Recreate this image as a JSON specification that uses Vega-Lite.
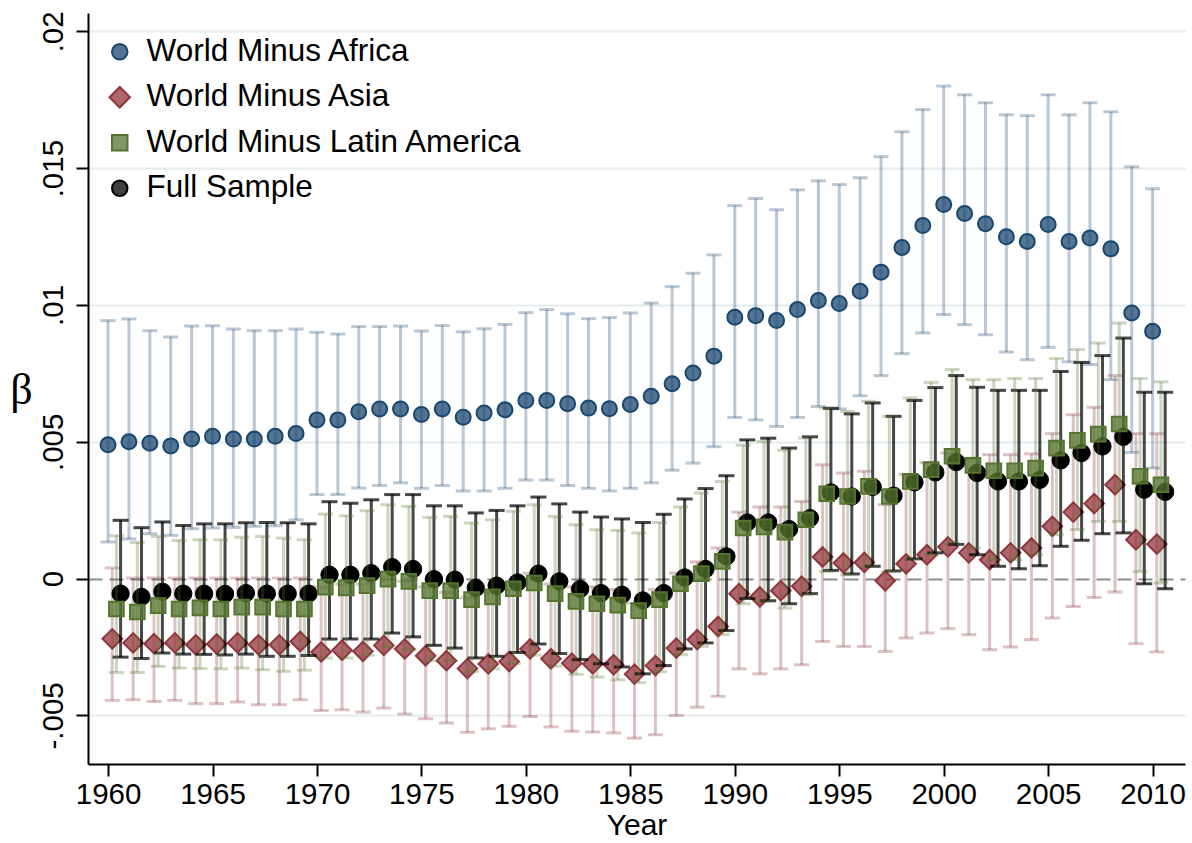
{
"$schema":"https://vega.github.io/schema/vega-lite/v6.json",
"width":1097,"height":751,
"autosize":{"type":"none"},
"padding":{"left":88,"top":13,"right":7,"bottom":79},
"background":"white",
"config":{"view":{"stroke":null},"font":"Liberation Sans",
 "legend":{"orient":"none","legendX":16,"legendY":23,"title":null,"labelFontSize":31.5,"labelFont":"Liberation Sans","labelColor":"black","labelLimit":600,"symbolSize":240,"rowPadding":12.5,"labelOffset":11,"symbolStrokeWidth":2}},
"data":{"values":[
{"s":"AF","yr":1960,"b":0.00489,"lo":0.00134,"hi":0.00943},
{"s":"AF","yr":1961,"b":0.0050,"lo":0.00145,"hi":0.00949},
{"s":"AF","yr":1962,"b":0.00495,"lo":0.00164,"hi":0.00906},
{"s":"AF","yr":1963,"b":0.00485,"lo":0.00158,"hi":0.00883},
{"s":"AF","yr":1964,"b":0.0051,"lo":0.00182,"hi":0.00923},
{"s":"AF","yr":1965,"b":0.0052,"lo":0.00185,"hi":0.00924},
{"s":"AF","yr":1966,"b":0.0051,"lo":0.00187,"hi":0.00912},
{"s":"AF","yr":1967,"b":0.0051,"lo":0.00191,"hi":0.00906},
{"s":"AF","yr":1968,"b":0.0052,"lo":0.00193,"hi":0.00906},
{"s":"AF","yr":1969,"b":0.0053,"lo":0.00215,"hi":0.00912},
{"s":"AF","yr":1970,"b":0.0058,"lo":0.00307,"hi":0.0090},
{"s":"AF","yr":1971,"b":0.0058,"lo":0.00307,"hi":0.00894},
{"s":"AF","yr":1972,"b":0.0061,"lo":0.00331,"hi":0.00921},
{"s":"AF","yr":1973,"b":0.0062,"lo":0.0034,"hi":0.00921},
{"s":"AF","yr":1974,"b":0.0062,"lo":0.0035,"hi":0.00923},
{"s":"AF","yr":1975,"b":0.0060,"lo":0.0033,"hi":0.00905},
{"s":"AF","yr":1976,"b":0.0062,"lo":0.0034,"hi":0.00925},
{"s":"AF","yr":1977,"b":0.0059,"lo":0.0032,"hi":0.00902},
{"s":"AF","yr":1978,"b":0.00605,"lo":0.0032,"hi":0.00913},
{"s":"AF","yr":1979,"b":0.00617,"lo":0.0033,"hi":0.00929},
{"s":"AF","yr":1980,"b":0.00651,"lo":0.0036,"hi":0.00972},
{"s":"AF","yr":1981,"b":0.00651,"lo":0.0036,"hi":0.00983},
{"s":"AF","yr":1982,"b":0.00639,"lo":0.0034,"hi":0.00968},
{"s":"AF","yr":1983,"b":0.00623,"lo":0.0033,"hi":0.0095},
{"s":"AF","yr":1984,"b":0.00621,"lo":0.0032,"hi":0.00954},
{"s":"AF","yr":1985,"b":0.00636,"lo":0.0033,"hi":0.00971},
{"s":"AF","yr":1986,"b":0.00666,"lo":0.0035,"hi":0.01007},
{"s":"AF","yr":1987,"b":0.00712,"lo":0.00396,"hi":0.01067},
{"s":"AF","yr":1988,"b":0.00751,"lo":0.00422,"hi":0.01116},
{"s":"AF","yr":1989,"b":0.00813,"lo":0.00482,"hi":0.01183},
{"s":"AF","yr":1990,"b":0.00955,"lo":0.00589,"hi":0.01363},
{"s":"AF","yr":1991,"b":0.00961,"lo":0.0058,"hi":0.01389},
{"s":"AF","yr":1992,"b":0.00943,"lo":0.00556,"hi":0.01348},
{"s":"AF","yr":1993,"b":0.00983,"lo":0.00589,"hi":0.01421},
{"s":"AF","yr":1994,"b":0.01016,"lo":0.00629,"hi":0.01454},
{"s":"AF","yr":1995,"b":0.01005,"lo":0.0062,"hi":0.0144},
{"s":"AF","yr":1996,"b":0.0105,"lo":0.00668,"hi":0.01465},
{"s":"AF","yr":1997,"b":0.0112,"lo":0.00742,"hi":0.01542},
{"s":"AF","yr":1998,"b":0.0121,"lo":0.00822,"hi":0.01633},
{"s":"AF","yr":1999,"b":0.0129,"lo":0.00898,"hi":0.01714},
{"s":"AF","yr":2000,"b":0.01367,"lo":0.00965,"hi":0.0180},
{"s":"AF","yr":2001,"b":0.01334,"lo":0.00928,"hi":0.01768},
{"s":"AF","yr":2002,"b":0.01297,"lo":0.00891,"hi":0.01739},
{"s":"AF","yr":2003,"b":0.01249,"lo":0.00828,"hi":0.01695},
{"s":"AF","yr":2004,"b":0.01232,"lo":0.0080,"hi":0.01692},
{"s":"AF","yr":2005,"b":0.01294,"lo":0.00845,"hi":0.01768},
{"s":"AF","yr":2006,"b":0.01232,"lo":0.00792,"hi":0.01695},
{"s":"AF","yr":2007,"b":0.01245,"lo":0.00782,"hi":0.01739},
{"s":"AF","yr":2008,"b":0.01205,"lo":0.00727,"hi":0.01706},
{"s":"AF","yr":2009,"b":0.00971,"lo":0.00461,"hi":0.01505},
{"s":"AF","yr":2010,"b":0.00904,"lo":0.00404,"hi":0.01425},
{"s":"AS","yr":1960,"b":-0.0022,"lo":-0.00445,"hi":0.00039},
{"s":"AS","yr":1961,"b":-0.00235,"lo":-0.00443,"hi":0.00002},
{"s":"AS","yr":1962,"b":-0.00238,"lo":-0.00449,"hi":0.00002},
{"s":"AS","yr":1963,"b":-0.00235,"lo":-0.00445,"hi":0.00002},
{"s":"AS","yr":1964,"b":-0.00242,"lo":-0.00457,"hi":0.00002},
{"s":"AS","yr":1965,"b":-0.00239,"lo":-0.00457,"hi":0.00002},
{"s":"AS","yr":1966,"b":-0.00235,"lo":-0.00451,"hi":0.00002},
{"s":"AS","yr":1967,"b":-0.00242,"lo":-0.00461,"hi":0.00002},
{"s":"AS","yr":1968,"b":-0.00242,"lo":-0.00461,"hi":0.00002},
{"s":"AS","yr":1969,"b":-0.0023,"lo":-0.00443,"hi":0.00002},
{"s":"AS","yr":1970,"b":-0.00268,"lo":-0.00482,"hi":-0.0003},
{"s":"AS","yr":1971,"b":-0.00262,"lo":-0.00479,"hi":-0.0002},
{"s":"AS","yr":1972,"b":-0.00266,"lo":-0.00488,"hi":-0.0002},
{"s":"AS","yr":1973,"b":-0.00244,"lo":-0.00473,"hi":0.0001},
{"s":"AS","yr":1974,"b":-0.00257,"lo":-0.00495,"hi":-0.0001},
{"s":"AS","yr":1975,"b":-0.00282,"lo":-0.00512,"hi":-0.0003},
{"s":"AS","yr":1976,"b":-0.0030,"lo":-0.00528,"hi":-0.0005},
{"s":"AS","yr":1977,"b":-0.00329,"lo":-0.00562,"hi":-0.0007},
{"s":"AS","yr":1978,"b":-0.00312,"lo":-0.00549,"hi":-0.0005},
{"s":"AS","yr":1979,"b":-0.00303,"lo":-0.0054,"hi":-0.0004},
{"s":"AS","yr":1980,"b":-0.00257,"lo":-0.00504,"hi":0.0002},
{"s":"AS","yr":1981,"b":-0.00293,"lo":-0.00542,"hi":-0.0002},
{"s":"AS","yr":1982,"b":-0.00309,"lo":-0.00558,"hi":-0.0003},
{"s":"AS","yr":1983,"b":-0.00312,"lo":-0.00561,"hi":-0.0003},
{"s":"AS","yr":1984,"b":-0.00315,"lo":-0.00564,"hi":-0.0004},
{"s":"AS","yr":1985,"b":-0.00349,"lo":-0.00583,"hi":-0.0009},
{"s":"AS","yr":1986,"b":-0.00318,"lo":-0.00571,"hi":-0.0004},
{"s":"AS","yr":1987,"b":-0.00254,"lo":-0.0050,"hi":0.0002},
{"s":"AS","yr":1988,"b":-0.00223,"lo":-0.0047,"hi":0.00061},
{"s":"AS","yr":1989,"b":-0.00175,"lo":-0.0043,"hi":0.00112},
{"s":"AS","yr":1990,"b":-0.00055,"lo":-0.0033,"hi":0.00243},
{"s":"AS","yr":1991,"b":-0.00067,"lo":-0.00348,"hi":0.00262},
{"s":"AS","yr":1992,"b":-0.00044,"lo":-0.0033,"hi":0.00262},
{"s":"AS","yr":1993,"b":-0.00028,"lo":-0.00315,"hi":0.00282},
{"s":"AS","yr":1994,"b":0.00079,"lo":-0.0023,"hi":0.00416},
{"s":"AS","yr":1995,"b":0.00057,"lo":-0.00248,"hi":0.00386},
{"s":"AS","yr":1996,"b":0.00059,"lo":-0.00248,"hi":0.00392},
{"s":"AS","yr":1997,"b":-0.00008,"lo":-0.00266,"hi":0.0027},
{"s":"AS","yr":1998,"b":0.00054,"lo":-0.00217,"hi":0.0038},
{"s":"AS","yr":1999,"b":0.00087,"lo":-0.00199,"hi":0.00423},
{"s":"AS","yr":2000,"b":0.00116,"lo":-0.00183,"hi":0.00459},
{"s":"AS","yr":2001,"b":0.00094,"lo":-0.00205,"hi":0.0044},
{"s":"AS","yr":2002,"b":0.00069,"lo":-0.0026,"hi":0.00453},
{"s":"AS","yr":2003,"b":0.00094,"lo":-0.0025,"hi":0.00453},
{"s":"AS","yr":2004,"b":0.00112,"lo":-0.00223,"hi":0.00456},
{"s":"AS","yr":2005,"b":0.00191,"lo":-0.00144,"hi":0.0053},
{"s":"AS","yr":2006,"b":0.00243,"lo":-0.00102,"hi":0.00599},
{"s":"AS","yr":2007,"b":0.00274,"lo":-0.00069,"hi":0.00626},
{"s":"AS","yr":2008,"b":0.00343,"lo":-0.00049,"hi":0.00742},
{"s":"AS","yr":2009,"b":0.00142,"lo":-0.00238,"hi":0.0053},
{"s":"AS","yr":2010,"b":0.00126,"lo":-0.00268,"hi":0.0053},
{"s":"LA","yr":1960,"b":-0.00111,"lo":-0.00343,"hi":0.00157},
{"s":"LA","yr":1961,"b":-0.00122,"lo":-0.00343,"hi":0.00132},
{"s":"LA","yr":1962,"b":-0.00099,"lo":-0.00321,"hi":0.00154},
{"s":"LA","yr":1963,"b":-0.00111,"lo":-0.00327,"hi":0.00139},
{"s":"LA","yr":1964,"b":-0.00107,"lo":-0.00329,"hi":0.00142},
{"s":"LA","yr":1965,"b":-0.00111,"lo":-0.0033,"hi":0.00142},
{"s":"LA","yr":1966,"b":-0.00104,"lo":-0.00327,"hi":0.00151},
{"s":"LA","yr":1967,"b":-0.00104,"lo":-0.00333,"hi":0.00154},
{"s":"LA","yr":1968,"b":-0.00111,"lo":-0.00339,"hi":0.00148},
{"s":"LA","yr":1969,"b":-0.00111,"lo":-0.00335,"hi":0.00142},
{"s":"LA","yr":1970,"b":-0.00031,"lo":-0.0029,"hi":0.00236},
{"s":"LA","yr":1971,"b":-0.00034,"lo":-0.0029,"hi":0.0023},
{"s":"LA","yr":1972,"b":-0.00026,"lo":-0.0028,"hi":0.00248},
{"s":"LA","yr":1973,"b":-0.00002,"lo":-0.0025,"hi":0.0027},
{"s":"LA","yr":1974,"b":-0.0001,"lo":-0.0026,"hi":0.00264},
{"s":"LA","yr":1975,"b":-0.00044,"lo":-0.003,"hi":0.00224},
{"s":"LA","yr":1976,"b":-0.00044,"lo":-0.003,"hi":0.00227},
{"s":"LA","yr":1977,"b":-0.00077,"lo":-0.0034,"hi":0.00203},
{"s":"LA","yr":1978,"b":-0.00067,"lo":-0.0033,"hi":0.00215},
{"s":"LA","yr":1979,"b":-0.00037,"lo":-0.0031,"hi":0.00246},
{"s":"LA","yr":1980,"b":-0.00016,"lo":-0.0028,"hi":0.0027},
{"s":"LA","yr":1981,"b":-0.00055,"lo":-0.0032,"hi":0.00227},
{"s":"LA","yr":1982,"b":-0.00083,"lo":-0.0035,"hi":0.00197},
{"s":"LA","yr":1983,"b":-0.00092,"lo":-0.0036,"hi":0.00179},
{"s":"LA","yr":1984,"b":-0.00097,"lo":-0.0037,"hi":0.00176},
{"s":"LA","yr":1985,"b":-0.00117,"lo":-0.0038,"hi":0.00167},
{"s":"LA","yr":1986,"b":-0.00077,"lo":-0.0034,"hi":0.00205},
{"s":"LA","yr":1987,"b":-0.00019,"lo":-0.00278,"hi":0.00262},
{"s":"LA","yr":1988,"b":0.00018,"lo":-0.00248,"hi":0.00313},
{"s":"LA","yr":1989,"b":0.00063,"lo":-0.00205,"hi":0.00355},
{"s":"LA","yr":1990,"b":0.00185,"lo":-0.00092,"hi":0.00487},
{"s":"LA","yr":1991,"b":0.00189,"lo":-0.00083,"hi":0.00501},
{"s":"LA","yr":1992,"b":0.0017,"lo":-0.00108,"hi":0.00469},
{"s":"LA","yr":1993,"b":0.00215,"lo":-0.00059,"hi":0.00514},
{"s":"LA","yr":1994,"b":0.0031,"lo":0.00026,"hi":0.00624},
{"s":"LA","yr":1995,"b":0.0030,"lo":0.00014,"hi":0.00611},
{"s":"LA","yr":1996,"b":0.00337,"lo":0.00045,"hi":0.00648},
{"s":"LA","yr":1997,"b":0.0030,"lo":0.00026,"hi":0.00593},
{"s":"LA","yr":1998,"b":0.00355,"lo":0.00072,"hi":0.0066},
{"s":"LA","yr":1999,"b":0.00398,"lo":0.00087,"hi":0.00717},
{"s":"LA","yr":2000,"b":0.00447,"lo":0.0013,"hi":0.00764},
{"s":"LA","yr":2001,"b":0.00414,"lo":0.00112,"hi":0.00727},
{"s":"LA","yr":2002,"b":0.00394,"lo":0.00069,"hi":0.00727},
{"s":"LA","yr":2003,"b":0.00394,"lo":0.00069,"hi":0.00731},
{"s":"LA","yr":2004,"b":0.00404,"lo":0.00087,"hi":0.00731},
{"s":"LA","yr":2005,"b":0.00477,"lo":0.0016,"hi":0.00804},
{"s":"LA","yr":2006,"b":0.00505,"lo":0.00179,"hi":0.00837},
{"s":"LA","yr":2007,"b":0.00528,"lo":0.00209,"hi":0.00861},
{"s":"LA","yr":2008,"b":0.00565,"lo":0.00209,"hi":0.00934},
{"s":"LA","yr":2009,"b":0.00374,"lo":0.00026,"hi":0.00731},
{"s":"LA","yr":2010,"b":0.00343,"lo":-0.00016,"hi":0.00719},
{"s":"FS","yr":1960,"b":-0.00055,"lo":-0.00287,"hi":0.00213},
{"s":"FS","yr":1961,"b":-0.00067,"lo":-0.00292,"hi":0.00186},
{"s":"FS","yr":1962,"b":-0.00048,"lo":-0.00272,"hi":0.00207},
{"s":"FS","yr":1963,"b":-0.00055,"lo":-0.00276,"hi":0.00194},
{"s":"FS","yr":1964,"b":-0.00055,"lo":-0.00277,"hi":0.0020},
{"s":"FS","yr":1965,"b":-0.00056,"lo":-0.00279,"hi":0.0020},
{"s":"FS","yr":1966,"b":-0.00053,"lo":-0.00276,"hi":0.00204},
{"s":"FS","yr":1967,"b":-0.00055,"lo":-0.00284,"hi":0.00205},
{"s":"FS","yr":1968,"b":-0.00055,"lo":-0.00284,"hi":0.00204},
{"s":"FS","yr":1969,"b":-0.00055,"lo":-0.00281,"hi":0.0020},
{"s":"FS","yr":1970,"b":0.00014,"lo":-0.00221,"hi":0.00281},
{"s":"FS","yr":1971,"b":0.00014,"lo":-0.00221,"hi":0.00275},
{"s":"FS","yr":1972,"b":0.0002,"lo":-0.00221,"hi":0.00288},
{"s":"FS","yr":1973,"b":0.00042,"lo":-0.00199,"hi":0.00307},
{"s":"FS","yr":1974,"b":0.00035,"lo":-0.00213,"hi":0.00307},
{"s":"FS","yr":1975,"b":-0.00002,"lo":-0.00244,"hi":0.00266},
{"s":"FS","yr":1976,"b":-0.00004,"lo":-0.00254,"hi":0.00266},
{"s":"FS","yr":1977,"b":-0.00034,"lo":-0.0029,"hi":0.0024},
{"s":"FS","yr":1978,"b":-0.00026,"lo":-0.00284,"hi":0.00249},
{"s":"FS","yr":1979,"b":-0.00014,"lo":-0.0027,"hi":0.00266},
{"s":"FS","yr":1980,"b":0.00018,"lo":-0.00239,"hi":0.00298},
{"s":"FS","yr":1981,"b":-0.0001,"lo":-0.00274,"hi":0.00273},
{"s":"FS","yr":1982,"b":-0.00038,"lo":-0.00296,"hi":0.00243},
{"s":"FS","yr":1983,"b":-0.00053,"lo":-0.00311,"hi":0.00225},
{"s":"FS","yr":1984,"b":-0.00059,"lo":-0.00323,"hi":0.00218},
{"s":"FS","yr":1985,"b":-0.0008,"lo":-0.00348,"hi":0.00205},
{"s":"FS","yr":1986,"b":-0.00053,"lo":-0.00318,"hi":0.00235},
{"s":"FS","yr":1987,"b":0.00004,"lo":-0.00257,"hi":0.00291},
{"s":"FS","yr":1988,"b":0.00035,"lo":-0.00235,"hi":0.00329},
{"s":"FS","yr":1989,"b":0.00081,"lo":-0.0019,"hi":0.00376},
{"s":"FS","yr":1990,"b":0.00205,"lo":-0.00073,"hi":0.00507},
{"s":"FS","yr":1991,"b":0.00205,"lo":-0.00081,"hi":0.00513},
{"s":"FS","yr":1992,"b":0.00181,"lo":-0.00092,"hi":0.00477},
{"s":"FS","yr":1993,"b":0.00221,"lo":-0.00055,"hi":0.00518},
{"s":"FS","yr":1994,"b":0.00315,"lo":0.0003,"hi":0.00622},
{"s":"FS","yr":1995,"b":0.0030,"lo":0.00017,"hi":0.00602},
{"s":"FS","yr":1996,"b":0.00335,"lo":0.00045,"hi":0.00642},
{"s":"FS","yr":1997,"b":0.00303,"lo":0.00028,"hi":0.00593},
{"s":"FS","yr":1998,"b":0.00352,"lo":0.00072,"hi":0.00651},
{"s":"FS","yr":1999,"b":0.00388,"lo":0.00094,"hi":0.00698},
{"s":"FS","yr":2000,"b":0.00426,"lo":0.00125,"hi":0.00742},
{"s":"FS","yr":2001,"b":0.00386,"lo":0.00087,"hi":0.00699},
{"s":"FS","yr":2002,"b":0.00355,"lo":0.00045,"hi":0.00688},
{"s":"FS","yr":2003,"b":0.00355,"lo":0.00036,"hi":0.00688},
{"s":"FS","yr":2004,"b":0.00361,"lo":0.00047,"hi":0.00688},
{"s":"FS","yr":2005,"b":0.00432,"lo":0.00118,"hi":0.00757},
{"s":"FS","yr":2006,"b":0.00459,"lo":0.0014,"hi":0.0079},
{"s":"FS","yr":2007,"b":0.00483,"lo":0.00164,"hi":0.00815},
{"s":"FS","yr":2008,"b":0.00518,"lo":0.00167,"hi":0.00879},
{"s":"FS","yr":2009,"b":0.00325,"lo":-0.00019,"hi":0.00681},
{"s":"FS","yr":2010,"b":0.00317,"lo":-0.00037,"hi":0.00681}
]},
"transform":[{"calculate":"datum.yr + (datum.s==='AS'?0.2:datum.s==='LA'?0.4:datum.s==='FS'?0.6:0)","as":"xp"}],
"encoding":{
 "x":{"field":"xp","type":"quantitative","title":"Year",
  "scale":{"domain":[1959.04,2011.55],"nice":false,"zero":false},
  "axis":{"values":[1960,1965,1970,1975,1980,1985,1990,1995,2000,2005,2010],"format":"d","grid":false,
   "labelFontSize":29.5,"labelColor":"black","labelFont":"Liberation Sans","labelPadding":4,"labelFlush":false,
   "tickSize":12,"tickWidth":2,"tickColor":"black","domainColor":"black","domainWidth":2,
   "titleFontSize":30,"titleFont":"Liberation Sans","titleFontWeight":"normal","titleColor":"black","titlePadding":2}}
},
"layer":[
 {"transform":[{"filter":"datum.s==='AF'"}],
  "mark":{"type":"errorbar","color":"#1a476f","opacity":0.3,"thickness":3,"ticks":{"size":15,"thickness":3}},
  "encoding":{"y":{"field":"lo","type":"quantitative","title":"β",
    "scale":{"domain":[-0.006776,0.02067],"nice":false,"zero":false},
    "axis":{"values":[-0.005,0,0.005,0.01,0.015,0.02],"title":"β",
     "labelExpr":"datum.value===0?'0':(datum.value<0?'-':'')+replace(format(abs(datum.value),'.3~f'),'0.','.')",
     "labelAngle":-90,"labelAlign":"center","labelBaseline":"bottom","labelFontSize":29.5,"labelColor":"black","labelFont":"Liberation Sans","labelPadding":8,
     "tickSize":12,"tickWidth":2,"tickColor":"black","domainColor":"black","domainWidth":2,
     "grid":true,"gridWidth":2,
     "gridColor":{"condition":{"test":"datum.value===0","value":"#8c8c8c"},"value":"#e3ecee"},
     "gridDash":{"condition":{"test":"datum.value===0","value":[14,7]},"value":[]},
     "titleAngle":0,"titleFont":"Liberation Serif","titleFontSize":44,"titleFontWeight":"normal","titleColor":"black",
     "titleX":-67,"titleY":377,"titleAlign":"center","titleBaseline":"middle"}},
   "y2":{"field":"hi"}}},
 {"transform":[{"filter":"datum.s==='AF'"}],
  "mark":{"type":"point","filled":true,"size":225,"strokeWidth":2,"fillOpacity":0.75},
  "encoding":{"y":{"field":"b","type":"quantitative","title":"β","scale":{"domain":[-0.006776,0.02067],"nice":false,"zero":false}},
   "fill":{"field":"s","type":"nominal","scale":{"domain":["AF","AS","LA","FS"],"range":["#1a476f","#90353b","#55752f","#000000"]},
     "legend":{"labelExpr":"datum.label==='AF'?'World Minus Africa':datum.label==='AS'?'World Minus Asia':datum.label==='LA'?'World Minus Latin America':'Full Sample'","labelLimit":600,
      "encode":{"symbols":{"update":{"fillOpacity":{"value":0.75},"size":{"signal":"datum.value==='AS'?420:240"}}}}}},
   "stroke":{"field":"s","type":"nominal","scale":{"domain":["AF","AS","LA","FS"],"range":["#1a476f","#90353b","#55752f","#000000"]}},
   "shape":{"field":"s","type":"nominal","scale":{"domain":["AF","AS","LA","FS"],"range":["circle","diamond","square","circle"]}}}},
 {"transform":[{"filter":"datum.s==='AS'"}],
  "mark":{"type":"errorbar","color":"#90353b","opacity":0.3,"thickness":3,"ticks":{"size":15,"thickness":3}},
  "encoding":{"y":{"field":"lo","type":"quantitative","title":"β","scale":{"domain":[-0.006776,0.02067],"nice":false,"zero":false}},"y2":{"field":"hi"}}},
 {"transform":[{"filter":"datum.s==='AS'"}],
  "mark":{"type":"point","filled":true,"size":380,"strokeWidth":2,"fillOpacity":0.75},
  "encoding":{"y":{"field":"b","type":"quantitative","title":"β","scale":{"domain":[-0.006776,0.02067],"nice":false,"zero":false}},
   "fill":{"field":"s","type":"nominal","scale":{"domain":["AF","AS","LA","FS"],"range":["#1a476f","#90353b","#55752f","#000000"]}},
   "stroke":{"field":"s","type":"nominal","scale":{"domain":["AF","AS","LA","FS"],"range":["#1a476f","#90353b","#55752f","#000000"]}},
   "shape":{"field":"s","type":"nominal","scale":{"domain":["AF","AS","LA","FS"],"range":["circle","diamond","square","circle"]}}}},
 {"transform":[{"filter":"datum.s==='FS'"}],
  "mark":{"type":"errorbar","color":"#000000","opacity":0.72,"thickness":3,"ticks":{"size":16,"thickness":3}},
  "encoding":{"y":{"field":"lo","type":"quantitative","title":"β","scale":{"domain":[-0.006776,0.02067],"nice":false,"zero":false}},"y2":{"field":"hi"}}},
 {"transform":[{"filter":"datum.s==='FS'"}],
  "mark":{"type":"point","filled":true,"size":300,"strokeWidth":1,"fillOpacity":1},
  "encoding":{"y":{"field":"b","type":"quantitative","title":"β","scale":{"domain":[-0.006776,0.02067],"nice":false,"zero":false}},
   "fill":{"field":"s","type":"nominal","scale":{"domain":["AF","AS","LA","FS"],"range":["#1a476f","#90353b","#55752f","#000000"]}},
   "stroke":{"field":"s","type":"nominal","scale":{"domain":["AF","AS","LA","FS"],"range":["#1a476f","#90353b","#55752f","#000000"]}},
   "shape":{"field":"s","type":"nominal","scale":{"domain":["AF","AS","LA","FS"],"range":["circle","diamond","square","circle"]}}}},
 {"transform":[{"filter":"datum.s==='LA'"}],
  "mark":{"type":"errorbar","color":"#55752f","opacity":0.3,"thickness":3,"ticks":{"size":15,"thickness":3}},
  "encoding":{"y":{"field":"lo","type":"quantitative","title":"β","scale":{"domain":[-0.006776,0.02067],"nice":false,"zero":false}},"y2":{"field":"hi"}}},
 {"transform":[{"filter":"datum.s==='LA'"}],
  "mark":{"type":"point","filled":true,"size":215,"strokeWidth":2,"fillOpacity":0.75},
  "encoding":{"y":{"field":"b","type":"quantitative","title":"β","scale":{"domain":[-0.006776,0.02067],"nice":false,"zero":false}},
   "fill":{"field":"s","type":"nominal","scale":{"domain":["AF","AS","LA","FS"],"range":["#1a476f","#90353b","#55752f","#000000"]}},
   "stroke":{"field":"s","type":"nominal","scale":{"domain":["AF","AS","LA","FS"],"range":["#1a476f","#90353b","#55752f","#000000"]}},
   "shape":{"field":"s","type":"nominal","scale":{"domain":["AF","AS","LA","FS"],"range":["circle","diamond","square","circle"]}}}}
]
}
